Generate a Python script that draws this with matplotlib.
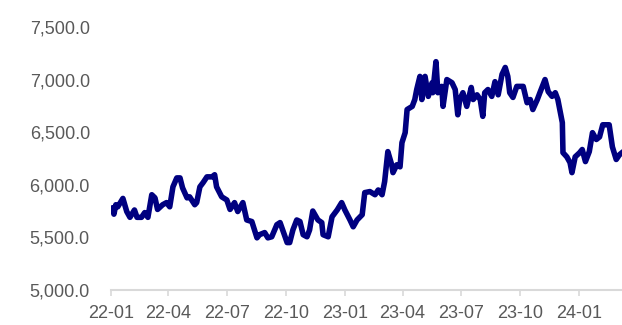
import matplotlib
matplotlib.use('Agg')
import matplotlib.pyplot as plt
import matplotlib.dates as mdates
import matplotlib.ticker as mticker
import pandas as pd

# 数据
dates = ['2022-01-04', '2022-01-06', '2022-01-09', '2022-01-12', '2022-01-20', '2022-01-26', '2022-01-31',
         '2022-02-07', '2022-02-11', '2022-02-18', '2022-02-23', '2022-02-28', '2022-03-06', '2022-03-11',
         '2022-03-15', '2022-03-23', '2022-03-29', '2022-04-03', '2022-04-08', '2022-04-14', '2022-04-19',
         '2022-04-23', '2022-04-30', '2022-05-04', '2022-05-12', '2022-05-15', '2022-05-20', '2022-05-25',
         '2022-05-31', '2022-06-08', '2022-06-12', '2022-06-15', '2022-06-23', '2022-07-01', '2022-07-06',
         '2022-07-13', '2022-07-18', '2022-07-26', '2022-08-01', '2022-08-09', '2022-08-17', '2022-08-21',
         '2022-08-29', '2022-09-03', '2022-09-09', '2022-09-17', '2022-09-22', '2022-09-26', '2022-10-03',
         '2022-10-07', '2022-10-12', '2022-10-18', '2022-10-23', '2022-10-28', '2022-11-03', '2022-11-07',
         '2022-11-12', '2022-11-20', '2022-11-26', '2022-11-28', '2022-12-06', '2022-12-12', '2022-12-20',
         '2022-12-27', '2023-01-01', '2023-01-09', '2023-01-14', '2023-01-20', '2023-01-28', '2023-02-01',
         '2023-02-09', '2023-02-17', '2023-02-22', '2023-02-28', '2023-03-04', '2023-03-09', '2023-03-15',
         '2023-03-17', '2023-03-23', '2023-03-28', '2023-03-31', '2023-04-05', '2023-04-08', '2023-04-16',
         '2023-04-20', '2023-04-23', '2023-04-28', '2023-05-01', '2023-05-06', '2023-05-11', '2023-05-17',
         '2023-05-18', '2023-05-23', '2023-05-26', '2023-06-01', '2023-06-03', '2023-06-09', '2023-06-17',
         '2023-06-22', '2023-06-26', '2023-06-29', '2023-07-04', '2023-07-10', '2023-07-17', '2023-07-20',
         '2023-07-26', '2023-07-31', '2023-08-04', '2023-08-07', '2023-08-12', '2023-08-18', '2023-08-23',
         '2023-08-28', '2023-09-03', '2023-09-08', '2023-09-12', '2023-09-15', '2023-09-20', '2023-09-26',
         '2023-10-01', '2023-10-06', '2023-10-12', '2023-10-17', '2023-10-21', '2023-10-28', '2023-11-01',
         '2023-11-09', '2023-11-14', '2023-11-20', '2023-11-25', '2023-11-29', '2023-12-06', '2023-12-07',
         '2023-12-13', '2023-12-18', '2023-12-21', '2023-12-26', '2024-01-02', '2024-01-06', '2024-01-11',
         '2024-01-17', '2024-01-22', '2024-01-28', '2024-02-02', '2024-02-07', '2024-02-17', '2024-02-22',
         '2024-02-28', '2024-03-04', '2024-03-07']
values = [5780, 5720, 5810, 5790, 5870, 5745, 5690,
          5760, 5690, 5690, 5735, 5690, 5905, 5875,
          5765, 5810, 5830, 5790, 5980, 6065, 6065,
          5970, 5875, 5885, 5810, 5830, 5980, 6020,
          6075, 6075, 6095, 5980, 5885, 5855, 5765,
          5830, 5745, 5830, 5665, 5650, 5495, 5525,
          5545, 5495, 5505, 5620, 5640, 5570, 5450,
          5450, 5570, 5665, 5650, 5525, 5505, 5570,
          5750, 5665, 5640, 5525, 5505, 5695, 5760,
          5830, 5760, 5665, 5600, 5665, 5715, 5925,
          5935, 5905, 5950, 5905, 6030, 6315, 6190,
          6115, 6190, 6170, 6400, 6495, 6715, 6745,
          6810, 6905, 7030, 6810, 7030, 6840, 6970,
          6875, 7170, 6875, 6935, 6745, 7000, 6970,
          6905, 6665, 6810, 6875, 6745, 6925, 6810,
          6855, 6810, 6650, 6875, 6905, 6840, 6980,
          6855, 7050, 7115, 7030, 6875, 6830, 6935,
          6935, 6935, 6780, 6810, 6715, 6810, 6875,
          7000, 6885, 6840, 6875, 6810, 6590, 6305,
          6265, 6210, 6115, 6265, 6305, 6335, 6220,
          6315, 6495, 6430, 6455, 6570, 6570, 6360,
          6240, 6285, 6300]

y_ticks = [5000, 5500, 6000, 6500, 7000, 7500]
x_ticks = ['2022-01-01', '2022-04-01', '2022-07-01', '2022-10-01', '2023-01-01',
           '2023-04-01', '2023-07-01', '2023-10-01', '2024-01-01']

plt.rcParams['font.family'] = ['Liberation Sans', 'DejaVu Sans']

fig = plt.figure(figsize=(6.22, 3.25), dpi=100)
ax = fig.add_axes([0.178, 0.108, 0.822, 0.809])

ax.plot(pd.to_datetime(dates), values, color='#000080', linewidth=4.0, solid_joinstyle='round')

ax.set_ylim(5000, 7500)
ax.set_xlim(pd.Timestamp('2022-01-01'), pd.Timestamp('2024-03-08'))
ax.set_yticks(y_ticks)
ax.yaxis.set_major_formatter(mticker.StrMethodFormatter('{x:,.1f}'))
ax.set_xticks(pd.to_datetime(x_ticks))
ax.xaxis.set_major_formatter(mdates.DateFormatter('%y-%m'))

for s in ['top', 'right', 'left']:
    ax.spines[s].set_visible(False)
ax.spines['bottom'].set_color('#d9d9d9')
ax.spines['bottom'].set_linewidth(1.5)
ax.tick_params(axis='y', length=0, pad=15, labelsize=13, labelcolor='#595959')
ax.tick_params(axis='x', length=4, width=1.2, color='#d9d9d9', pad=7, labelsize=13, labelcolor='#595959')

fig.savefig('out.png', dpi=100)
